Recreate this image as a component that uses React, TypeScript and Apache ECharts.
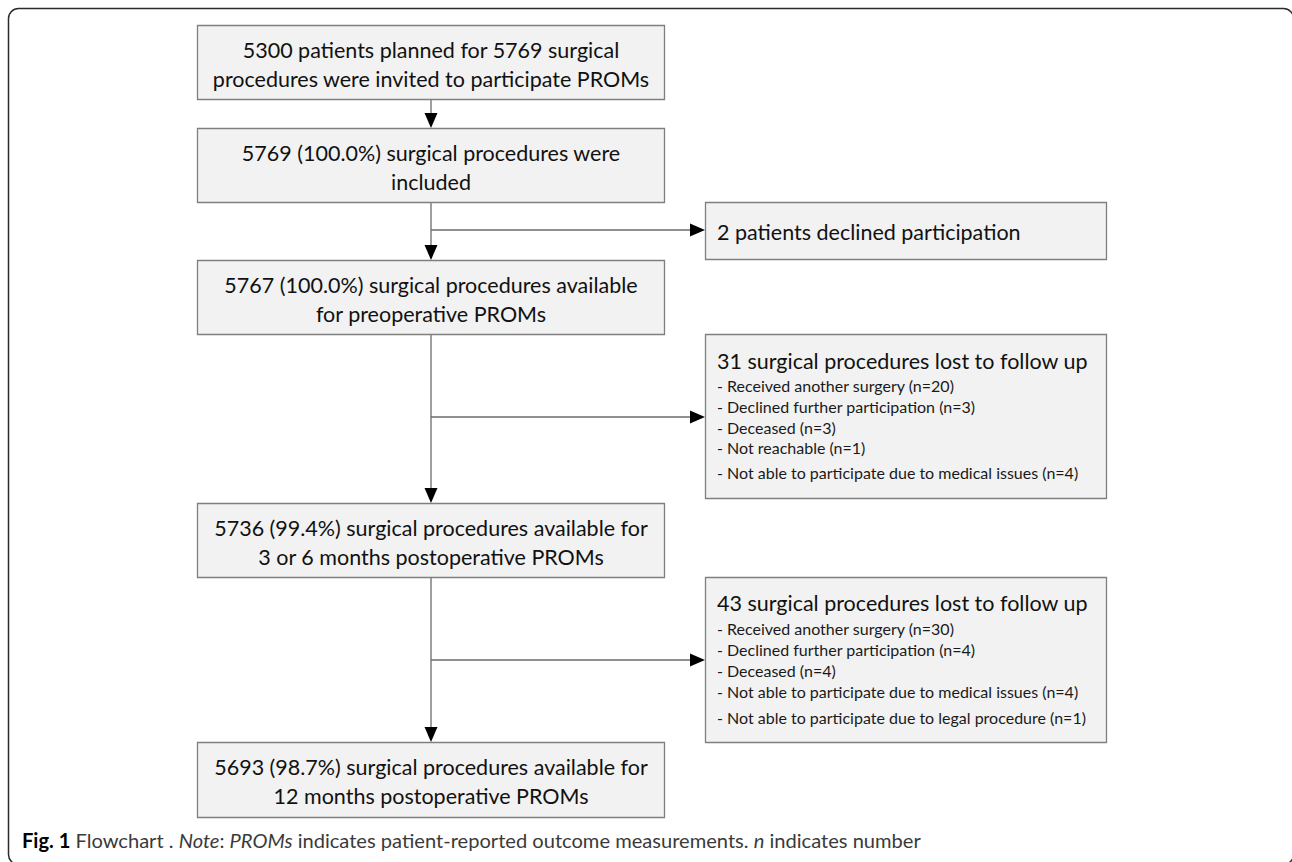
import React, { useEffect, useRef } from "react";
import * as echarts from "echarts";

// ---- Data (texts of the flowchart) ----
const mainSteps: string[] = [
  "5300 patients planned for 5769 surgical\nprocedures were invited to participate PROMs",
  "5769 (100.0%) surgical procedures were\nincluded",
  "5767 (100.0%) surgical procedures available\nfor preoperative PROMs",
  "5736 (99.4%) surgical procedures available for\n3 or 6 months postoperative PROMs",
  "5693 (98.7%) surgical procedures available for\n12 months postoperative PROMs",
];

const exclusionTitles: string[] = [
  "2 patients declined participation",
  "31 surgical procedures lost to follow up",
  "43 surgical procedures lost to follow up",
];

const exclusion2Items: string[] = [
  "- Received another surgery (n=20)",
  "- Declined further participation (n=3)",
  "- Deceased (n=3)",
  "- Not reachable (n=1)",
  "- Not able to participate due to medical issues (n=4)",
];

const exclusion3Items: string[] = [
  "- Received another surgery (n=30)",
  "- Declined further participation (n=4)",
  "- Deceased (n=4)",
  "- Not able to participate due to medical issues (n=4)",
  "- Not able to participate due to legal procedure (n=1)",
];

const captionText =
  "{b|Fig. 1} {r|Flowchart . }{i|Note}{r|: }{i|PROMs}{r| indicates patient-reported outcome measurements. }{i|n}{r| indicates number}";

// ---- Layout ----
const FONT = "Lato, 'Noto Sans', sans-serif";
const MAIN_X = 197;
const MAIN_W = 467;
const MAIN_CX = 431;
const MAIN_BOXES: [number, number][] = [
  [25, 99],
  [128, 202],
  [260, 334],
  [503, 577],
  [742, 817],
];
const SIDE_X = 705;
const SIDE_W = 401;
const SIDE_BOXES: [number, number][] = [
  [202, 259],
  [334, 498],
  [577, 742],
];
const BRANCH_Y = [230, 417, 660];

const BOX_FILL = "#f2f2f2";
const BOX_STROKE = "#7f7f7f";
const LINE = "#6b6b6b";

function arrowDown(x: number, tipY: number) {
  return {
    type: "polygon",
    shape: { points: [[x - 6.5, tipY - 15], [x + 6.5, tipY - 15], [x, tipY]] },
    style: { fill: "#000" },
  };
}
function arrowRight(tipX: number, y: number) {
  return {
    type: "polygon",
    shape: { points: [[tipX - 15, y - 6.5], [tipX - 15, y + 6.5], [tipX, y]] },
    style: { fill: "#000" },
  };
}
function vline(x: number, y1: number, y2: number) {
  return { type: "line", shape: { x1: x, y1, x2: x, y2 }, style: { stroke: LINE, lineWidth: 1.3 } };
}
function hline(y: number, x1: number, x2: number) {
  return { type: "line", shape: { x1, y1: y, x2, y2: y }, style: { stroke: LINE, lineWidth: 1.3 } };
}
function box(x: number, y: number, w: number, h: number) {
  return {
    type: "rect",
    shape: { x: x + 0.5, y: y + 0.5, width: w, height: h },
    style: { fill: BOX_FILL, stroke: BOX_STROKE, lineWidth: 1.3 },
  };
}

export default function App() {
  const ref = useRef<HTMLDivElement>(null);
  useEffect(() => {
    if (!ref.current) return;
    const chart = echarts.init(ref.current, undefined, { renderer: "svg" });
    const els: any[] = [];

    // outer frame (right and bottom edges fall just outside the picture)
    els.push({
      type: "rect",
      shape: { x: 8.5, y: 8.5, width: 1285, height: 856, r: 10 },
      style: { fill: "none", stroke: "#2b2b2b", lineWidth: 1.5 },
    });

    // connectors
    const cx = MAIN_CX;
    for (let i = 0; i < MAIN_BOXES.length - 1; i++) {
      const yb = MAIN_BOXES[i][1];
      const yt = MAIN_BOXES[i + 1][0];
      els.push(vline(cx, yb, yt - 10));
      els.push(arrowDown(cx, yt));
    }
    BRANCH_Y.forEach((y) => {
      els.push(hline(y, cx, SIDE_X - 10));
      els.push(arrowRight(SIDE_X, y));
    });

    // main boxes
    MAIN_BOXES.forEach(([y1, y2], i) => {
      els.push(box(MAIN_X, y1, MAIN_W, y2 - y1));
      els.push({
        type: "text",
        x: cx,
        y: (y1 + y2) / 2 + 2,
        style: {
          text: mainSteps[i],
          fontFamily: FONT,
          fontSize: 21.5,
          lineHeight: 29,
          fill: "#111",
          align: "center",
          verticalAlign: "middle",
          textAlign: "center",
          textVerticalAlign: "middle",
        },
      });
    });

    // side boxes
    SIDE_BOXES.forEach(([y1, y2]) => {
      els.push(box(SIDE_X, y1, SIDE_W, y2 - y1));
    });
    const tx = 717;
    els.push({
      type: "text",
      x: tx,
      y: (SIDE_BOXES[0][0] + SIDE_BOXES[0][1]) / 2 + 1.5,
      style: {
        text: exclusionTitles[0],
        fontFamily: FONT,
        fontSize: 21.5,
        fill: "#111",
        align: "left",
        verticalAlign: "middle",
        textAlign: "left",
        textVerticalAlign: "middle",
      },
    });
    const itemBlocks: [string[], number, number[]][] = [
      [exclusion2Items, 361, [385, 406, 427, 447, 472]],
      [exclusion3Items, 603, [628, 649, 670, 691, 717]],
    ];
    itemBlocks.forEach(([items, ty, ys], k) => {
      els.push({
        type: "text",
        x: tx,
        y: ty,
        style: {
          text: exclusionTitles[k + 1],
          fontFamily: FONT,
          fontSize: 21.5,
          fill: "#111",
          align: "left",
          verticalAlign: "middle",
          textAlign: "left",
          textVerticalAlign: "middle",
        },
      });
      items.forEach((t, j) => {
        els.push({
          type: "text",
          x: tx,
          y: ys[j],
          style: {
            text: t,
            fontFamily: FONT,
            fontSize: 16,
            fill: "#1a1a1a",
            align: "left",
            verticalAlign: "middle",
            textAlign: "left",
            textVerticalAlign: "middle",
          },
        });
      });
    });

    // caption
    const CF = 20.1;
    els.push({
      type: "text",
      x: 22,
      y: 840,
      style: {
        text: captionText,
        fontFamily: FONT,
        fontSize: CF,
        align: "left",
        verticalAlign: "middle",
        textAlign: "left",
        textVerticalAlign: "middle",
        rich: {
          b: { fontFamily: FONT, fontSize: CF, fontWeight: "bold", fill: "#000" },
          r: { fontFamily: FONT, fontSize: CF, fill: "#3a3a3a" },
          i: { fontFamily: FONT, fontSize: CF, fontStyle: "italic", fill: "#3a3a3a" },
        },
      },
    });

    chart.setOption({ animation: false, graphic: { elements: els } });
    return () => chart.dispose();
  }, []);
  return (
    <div
      ref={ref}
      style={{ position: "fixed", left: 0, top: 0, width: 1292, height: 862, background: "#fff" }}
    />
  );
}
